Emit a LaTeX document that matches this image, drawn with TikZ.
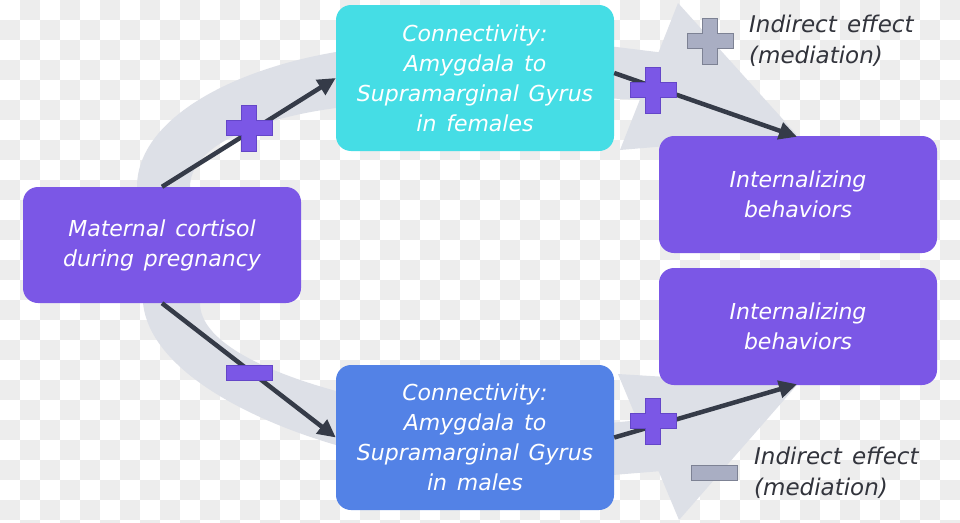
\documentclass[tikz,border=0pt]{standalone}
\usepackage{fontspec}
\setmainfont{DejaVu Sans}[WordSpace=1.4]
\usetikzlibrary{arrows.meta}
\definecolor{boxpurple}{RGB}{123,87,230}
\definecolor{boxcyan}{RGB}{69,221,229}
\definecolor{boxblue}{RGB}{83,130,230}
\definecolor{band}{RGB}{221,224,231}
\definecolor{darkarrow}{RGB}{53,59,72}
\definecolor{signgray}{RGB}{169,174,195}
\definecolor{signgrayedge}{RGB}{125,130,148}
\definecolor{signpurpleedge}{RGB}{100,70,200}
\definecolor{checker}{RGB}{237,237,237}
\definecolor{legendtext}{RGB}{50,52,60}
\tikzset{
  x=1pt, y=-1pt,
  box/.style={rounded corners=15pt, minimum width=278pt, align=center, text=white,
    font=\fontsize{22}{30}\selectfont\itshape, inner sep=0pt},
  conn/.style={line width=4.5pt, draw=darkarrow, -{Triangle[length=18pt,width=17pt]}},
  legendtxt/.style={text=legendtext, align=left, anchor=west,
    font=\fontsize{23}{30.5}\selectfont\itshape, inner sep=0pt},
}
\newcommand{\plussign}[3]{%
  \fill[#2, draw=#3, line width=0.8pt]
    (#1) ++(-7.5,-23) -- ++(15,0) -- ++(0,15.5) -- ++(15.5,0) -- ++(0,15) -- ++(-15.5,0)
    -- ++(0,15.5) -- ++(-15,0) -- ++(0,-15.5) -- ++(-15.5,0) -- ++(0,-15) -- ++(15.5,0) -- cycle;}
\newcommand{\minussign}[3]{%
  \fill[#2, draw=#3, line width=0.8pt] (#1) ++(-23,-7.5) rectangle ++(46,15);}
\begin{document}
\begin{tikzpicture}
\useasboundingbox (0,0) rectangle (960,522);
% checkerboard background
\fill[white] (0,0) rectangle (960,522);
\foreach \i in {0,...,47}{
  \foreach \j in {0,...,26}{
    \pgfmathtruncatemacro{\parity}{mod(\i+\j,2)}
    \ifnum\parity=1
      \fill[checker] (\i*20,\j*20) rectangle ++(20,20);
    \fi
  }
}
% gray bands
\fill[band] (137,187) .. controls (137,120) and (230,70) .. (336,52)
  -- (336,108) .. controls (260,118) and (190,145) .. (190,187) -- cycle;
\fill[band] (143,303) .. controls (150,370) and (250,420) .. (336,445)
  -- (336,391) .. controls (260,370) and (200,340) .. (200,303) -- cycle;
\fill[band] (600,45) -- (665,53) -- (645,100) -- (600,98) -- cycle;
\fill[band] (678,3) -- (620,150) -- (797,135) -- cycle;
\fill[band] (600,424) -- (640,420) -- (662,471) -- (600,476) -- cycle;
\fill[band] (618,374) -- (679,520) -- (797,385) -- cycle;
% boxes
\node[box, fill=boxpurple, minimum height=116pt] (mat) at (162,245)
  {Maternal cortisol\\during pregnancy};
\node[box, fill=boxcyan, minimum height=146pt] (fem) at (475,78)
  {Connectivity:\\Amygdala to\\Supramarginal Gyrus\\in females};
\node[box, fill=boxblue, minimum height=145pt] (mal) at (475,437.5)
  {Connectivity:\\Amygdala to\\Supramarginal Gyrus\\in males};
\node[box, fill=boxpurple, minimum height=117pt] (intA) at (798,194.5)
  {Internalizing\\behaviors};
\node[box, fill=boxpurple, minimum height=117pt] (intB) at (798,326.5)
  {Internalizing\\behaviors};
% connectors
\draw[conn] (mat.north) -- (fem.west);
\draw[conn] ([yshift=5pt]fem.east) -- ([shift={(-1pt,-1pt)}]intA.north);
\draw[conn] (mat.south) -- (mal.west);
\draw[conn] (mal.east) -- ([shift={(-1pt,1pt)}]intB.south);
% signs
\coordinate (s1) at (249,128);
\coordinate (s2) at (653,90);
\coordinate (s3) at (249,373);
\coordinate (s4) at (653,421);
\coordinate (g1) at (710,41);
\coordinate (g2) at (714,473);
\plussign{s1}{boxpurple}{signpurpleedge}
\plussign{s2}{boxpurple}{signpurpleedge}
\minussign{s3}{boxpurple}{signpurpleedge}
\plussign{s4}{boxpurple}{signpurpleedge}
\plussign{g1}{signgray}{signgrayedge}
\minussign{g2}{signgray}{signgrayedge}
% legends
\node[legendtxt] (legA) at (749,41) {Indirect effect\\(mediation)};
\node[legendtxt] (legB) at (754,473) {Indirect effect\\(mediation)};
\end{tikzpicture}
\end{document}
